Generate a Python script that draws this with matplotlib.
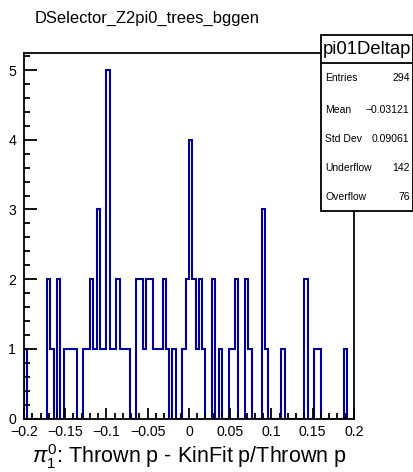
import numpy as np
import matplotlib
matplotlib.use("Agg")
import matplotlib.pyplot as plt
from matplotlib.patches import Rectangle

plt.rcParams['font.family'] = ['Liberation Sans', 'DejaVu Sans']
plt.rcParams['mathtext.fontset'] = 'custom'
plt.rcParams['mathtext.rm'] = 'Liberation Sans'
plt.rcParams['mathtext.it'] = 'Liberation Sans:italic'

# histogram pi01Deltap: 100 bins on [-0.2, 0.2]
x_min, x_max, n_bins = -0.2, 0.2, 100
counts = [1, 0, 0, 0, 0, 0, 0, 2, 1, 0,
          2, 0, 1, 1, 1, 1, 0, 0, 1, 1,
          2, 1, 3, 1, 1, 5, 1, 1, 2, 1,
          1, 1, 0, 0, 2, 2, 1, 2, 2, 1,
          1, 1, 2, 1, 0, 1, 0, 0, 1, 2,
          4, 2, 1, 2, 1, 0, 0, 2, 0, 1,
          0, 0, 1, 1, 2, 0, 0, 2, 1, 0,
          0, 0, 3, 1, 0, 0, 0, 0, 1, 0,
          0, 0, 0, 0, 0, 2, 0, 0, 1, 1,
          0, 0, 0, 0, 0, 0, 0, 1, 0, 0]

stat_labels = ["Entries", "Mean", "Std Dev", "Underflow", "Overflow"]
stat_values = ["294", "\u22120.03121", "0.09061", "142", "76"]

x_ticks = [-0.2, -0.15, -0.1, -0.05, 0, 0.05, 0.1, 0.15, 0.2]
x_ticklabels = ["\u22120.2", "\u22120.15", "\u22120.1", "\u22120.05", "0",
                "0.05", "0.1", "0.15", "0.2"]
y_ticks = [0, 1, 2, 3, 4, 5]

W, H = 414, 472
fig = plt.figure(figsize=(W / 100, H / 100), dpi=100)

def fx(px):
    return px / W

def fy(py):
    return 1 - py / H

left, right, top, bottom = 24.0, 354.0, 52.7, 418.5
ax = fig.add_axes([fx(left), fy(bottom), fx(right) - fx(left), fy(top) - fy(bottom)])

edges = np.linspace(x_min, x_max, n_bins + 1)
ax.stairs(counts, edges, baseline=0, color='#000099', linewidth=1.5)

ymax = max(counts) * 1.05
ax.set_xlim(x_min, x_max)
ax.set_ylim(0, ymax)

ax.set_xticks(x_ticks)
ax.set_xticklabels(x_ticklabels)
ax.set_xticks(np.arange(-0.2, 0.2001, 0.01), minor=True)
ax.set_yticks(y_ticks)
ax.set_yticks(np.arange(0, 5.25, 0.2), minor=True)

ax.tick_params(axis='both', which='both', direction='in', top=False, right=False,
               width=1.3, labelsize=10.2, colors='black')
ax.tick_params(axis='x', which='major', length=8, pad=5)
ax.tick_params(axis='x', which='minor', length=4)
ax.tick_params(axis='y', which='major', length=9, pad=5.5)
ax.tick_params(axis='y', which='minor', length=4.5)
for s in ax.spines.values():
    s.set_linewidth(1.3)

ax.set_xlabel(r'$\pi^{0}_{1}$: Thrown p - KinFit p/Thrown p', fontsize=15.5, labelpad=2)

fig.text(fx(35), fy(18), "DSelector_Z2pi0_trees_bggen", fontsize=11.9, ha='left', va='center')

# statistics box
bx0, bx1, by0, by1, bsep = 320.7, 413.0, 35.0, 211.0, 63.3
fig.patches.append(Rectangle((fx(bx0), fy(by1)), fx(bx1) - fx(bx0), fy(by0) - fy(by1),
                             transform=fig.transFigure, facecolor='white',
                             edgecolor='black', linewidth=1.3, zorder=5))
fig.add_artist(plt.Line2D([fx(bx0), fx(bx1)], [fy(bsep), fy(bsep)],
                          transform=fig.transFigure, color='black', linewidth=1.3, zorder=6))
fig.text(fx((bx0 + bx1) / 2), fy((by0 + bsep) / 2), "pi01Deltap", fontsize=13.3,
         ha='center', va='center', zorder=7)
row_y = [78.3, 110.0, 139.0, 168.0, 197.0]
for lab, val, yy in zip(stat_labels, stat_values, row_y):
    fig.text(fx(bx0 + 4.5), fy(yy), lab, fontsize=7.5, ha='left', va='center', zorder=7)
    fig.text(fx(bx1 - 3.5), fy(yy), val, fontsize=7.5, ha='right', va='center', zorder=7)

fig.savefig("out.png", dpi=100)
